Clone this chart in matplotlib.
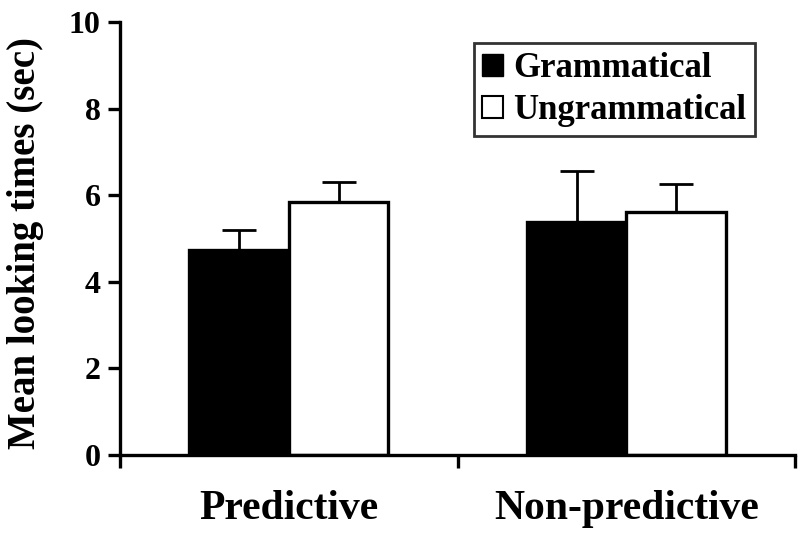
import numpy as np
import matplotlib.pyplot as plt
from matplotlib.patches import Patch

plt.rcParams['font.family'] = ['Liberation Serif', 'DejaVu Serif']
plt.rcParams['font.weight'] = 'bold'

conditions = ['Predictive', 'Non-predictive']
grammatical = [4.73, 5.38]
ungrammatical = [5.84, 5.61]
err_gram = [0.47, 1.18]
err_ungram = [0.46, 0.65]

fig = plt.figure(figsize=(8.0, 5.43), dpi=100)
ax = fig.add_axes([0.15, 0.162, 0.844, 0.797])

x = np.arange(len(conditions))
w = 0.295
lw = 2.4

ax.bar(x - w / 2, grammatical, w, color='black', edgecolor='black', linewidth=lw)
ax.bar(x + w / 2, ungrammatical, w, color='white', edgecolor='black', linewidth=lw)
ax.errorbar(x - w / 2, grammatical, yerr=[np.zeros(2), err_gram], fmt='none',
            ecolor='black', elinewidth=2, capsize=12, capthick=2)
ax.errorbar(x + w / 2, ungrammatical, yerr=[np.zeros(2), err_ungram], fmt='none',
            ecolor='black', elinewidth=2, capsize=12, capthick=2)

ax.set_xlim(-0.5, 1.5)
ax.set_ylim(0, 10)
ax.set_yticks([0, 2, 4, 6, 8, 10])
ax.set_xticks([-0.5, 0.5, 1.5])
ax.set_xticklabels([])
for i, c in enumerate(conditions):
    ax.text(i, -0.8, c, ha='center', va='top', fontsize=30, fontweight='bold')

ax.tick_params(axis='y', direction='out', length=9, width=lw, labelsize=23, pad=5)
ax.tick_params(axis='x', direction='out', length=9, width=lw)
ax.spines['top'].set_visible(False)
ax.spines['right'].set_visible(False)
ax.spines['left'].set_linewidth(lw)
ax.spines['bottom'].set_linewidth(lw)
ax.set_ylabel('Mean looking times (sec)', fontsize=28, fontweight='bold')
ax.yaxis.set_label_coords(-0.112, 0.49)

handles = [Patch(facecolor='black', edgecolor='black'),
           Patch(facecolor='white', edgecolor='black', linewidth=1.5)]
leg = ax.legend(handles, ['Grammatical', 'Ungrammatical'], loc='upper right',
                bbox_to_anchor=(0.941, 0.951), fontsize=25, frameon=True, fancybox=False,
                handlelength=0.6, handleheight=0.6, handletextpad=0.3,
                borderpad=0.25, labelspacing=0.25, borderaxespad=0, edgecolor='black')
leg.get_frame().set_linewidth(2)
for t in leg.get_texts():
    t.set_fontweight('bold')

fig.savefig('out.png', dpi=100)
